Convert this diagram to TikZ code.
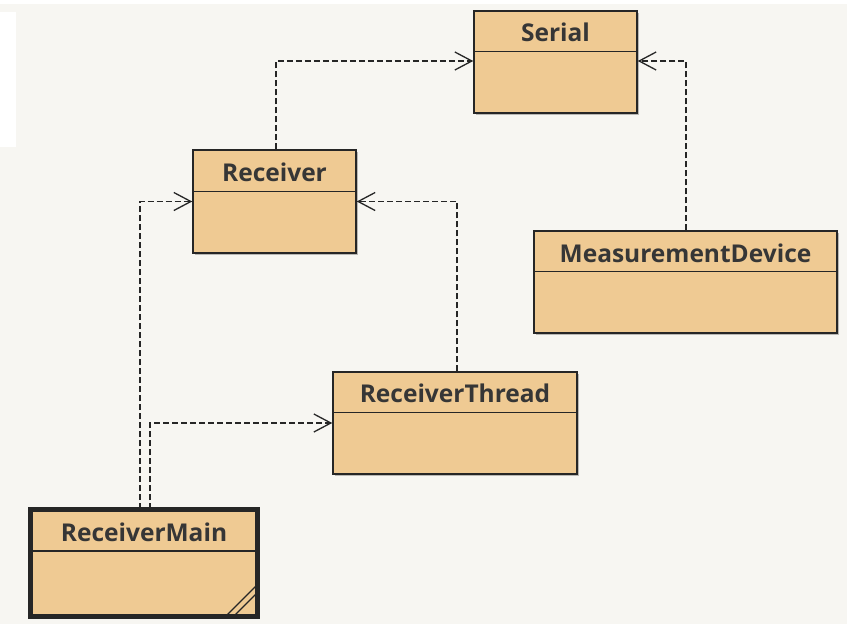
\documentclass[tikz,border=0pt]{standalone}
\usepackage{fontspec}
\setmainfont{Open Sans}
\usetikzlibrary{arrows.meta,shadows,calc}
\definecolor{bgc}{HTML}{F7F6F2}
\definecolor{boxfill}{HTML}{EFCA93}
\definecolor{txt}{HTML}{363636}
\tikzset{
  cls/.style={draw=black!85, line width=1.5pt, fill=boxfill, inner sep=0pt,
    drop shadow={shadow xshift=2pt, shadow yshift=-2pt, opacity=0.25, fill=black}},
  ttl/.style={font=\fontsize{24.5}{28}\selectfont\bfseries, text=txt, inner sep=0pt},
  divider/.style={draw=black!85, line width=1.5pt},
  dep/.style={draw=black!85, line width=1.3pt, dash pattern=on 6pt off 3pt,
    -{Straight Barb[length=17pt,width=18pt,line width=1.3pt]}}
}
\begin{document}
\begin{tikzpicture}[x=1pt,y=-1pt]
\fill[white] (0,0) rectangle (847,624);
\fill[bgc] (0,4) rectangle (847,624);
\fill[white] (0,12) rectangle (16,147);
\useasboundingbox (0,0) rectangle (847,624);

% boxes
\node[cls, minimum width=163pt, minimum height=102pt] (serial) at (555.5,62) {};
\node[cls, minimum width=163pt, minimum height=103pt] (receiver) at (274.5,201.5) {};
\node[cls, minimum width=303pt, minimum height=102pt] (meas) at (685.5,282) {};
\node[cls, minimum width=244pt, minimum height=102pt] (rthread) at (455,423) {};
\node[cls, line width=5pt, minimum width=227pt, minimum height=107pt] (rmain) at (144,563) {};

% dividers
\draw[divider] ($(serial.north west)+(0,41)$) -- ($(serial.north east)+(0,41)$);
\draw[divider] ($(receiver.north west)+(0,42)$) -- ($(receiver.north east)+(0,42)$);
\draw[divider] ($(meas.north west)+(0,41)$) -- ($(meas.north east)+(0,41)$);
\draw[divider] ($(rthread.north west)+(0,41)$) -- ($(rthread.north east)+(0,41)$);
\draw[divider] ($(rmain.north west)+(0,44)$) -- ($(rmain.north east)+(0,44)$);

% titles
\node[ttl] (tserial) at ($(serial.north)+(0,22)$) {Serial};
\node[ttl] (treceiver) at ($(receiver.north)+(0,23)$) {Receiver};
\node[ttl] (tmeas) at ($(meas.north)+(0,23)$) {MeasurementDevice};
\node[ttl] (trthread) at ($(rthread.north)+(0,22)$) {ReceiverThread};
\node[ttl] (trmain) at ($(rmain.north)+(0,25)$) {ReceiverMain};

% active corner marks
\draw[black!85, line width=1.2pt] ($(rmain.south east)+(-34,-3)$) -- ($(rmain.south east)+(-3,-34)$);
\draw[black!85, line width=1.2pt] ($(rmain.south east)+(-26,-3)$) -- ($(rmain.south east)+(-3,-26)$);

% connectors
\draw[dep] ([xshift=1.5pt]receiver.north) |- ([yshift=1pt]serial.west);
\draw[dep] ([xshift=0.5pt]meas.north) |- ([yshift=1pt]serial.east);
\draw[dep] ([xshift=2pt]rthread.north) |- (receiver.east);
\draw[dep] ([xshift=-4pt,yshift=-2pt]rmain.north) |- (receiver.west);
\draw[dep] ([xshift=6pt,yshift=-2pt]rmain.north) |- (rthread.west);
\end{tikzpicture}
\end{document}
